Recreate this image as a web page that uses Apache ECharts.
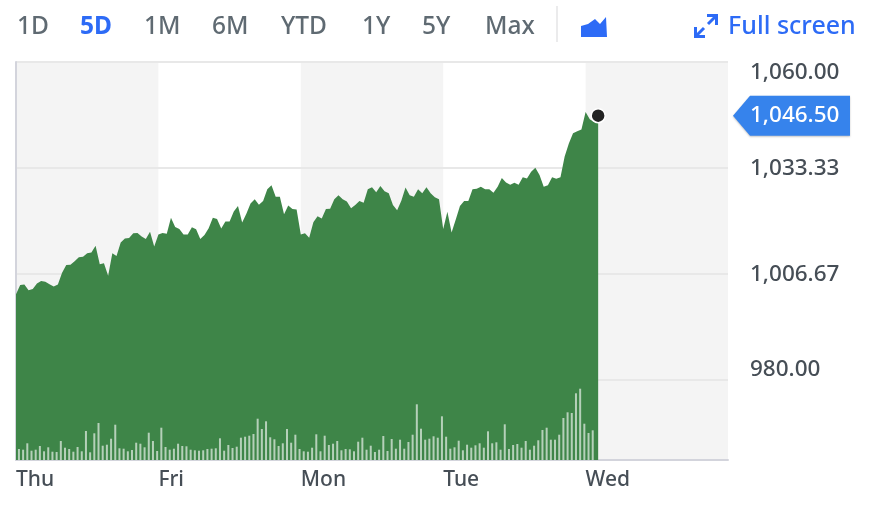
<!DOCTYPE html>
<html>
<head>
<meta charset="utf-8">
<style>html,body{margin:0;padding:0;background:#fff}#chart{width:878px;height:506px}</style>
<script src="https://cdn.jsdelivr.net/npm/echarts@6/dist/echarts.min.js"></script>
</head>
<body>
<div id="chart"></div>
<script>
var prices = [
1001.6,1003.9,1004.0,1002.6,1002.9,1004.3,1004.9,1004.7,1004.1,1003.5,
1004.0,1007.0,1008.9,1009.0,1009.9,1010.9,1011.0,1011.9,1012.1,1013.8,
1009.1,1009.4,1006.2,1011.9,1011.2,1014.6,1015.6,1015.7,1016.9,1017.0,
1016.1,1015.5,1017.3,1013.6,1016.6,1017.0,1016.8,1020.8,1018.5,1018.0,
1016.6,1016.6,1018.4,1017.9,1015.5,1016.5,1018.2,1020.8,1020.5,1018.1,
1019.9,1019.9,1022.4,1023.8,1019.6,1021.8,1024.4,1025.5,1024.1,1025.0,
1028.0,1029.0,1026.1,1026.1,1021.7,1023.9,1023.0,1022.9,
1016.6,1016.9,1015.8,1019.7,1021.2,1020.6,1023.0,1023.1,1025.5,1026.5,
1025.5,1024.9,1023.2,1024.0,1025.0,1024.6,1028.0,1028.5,1027.2,1028.8,
1027.5,1027.0,1024.0,1022.7,1025.1,1028.4,1026.5,1026.1,1028.0,1027.0,
1028.5,1027.0,1026.0,1025.5,1018.0,1022.3,1017.1,1020.4,1023.8,1025.0,
1025.0,1028.0,1028.1,1028.6,1028.0,1028.0,1027.1,1028.6,1030.8,1029.7,
1029.1,1029.6,1029.1,1031.0,1030.7,1032.4,1033.4,1031.6,1028.6,1029.0,
1031.0,1030.6,1031.0,1036.2,1039.5,1042.1,1042.6,1043.0,1047.4,1045.6,
1044.9,1044.9
];
var volumes = [
11,10.3,16.7,9.3,10.3,14,8.7,12.7,8.3,8,19,12.3,11,8.3,13,8.7,29,7.7,26.7,37,
14.3,15.3,21.3,35.3,11.7,11.3,8.7,10,17.3,16.3,12.7,27.3,19,9,32.3,13,10.3,11.3,16.3,14,
13.7,10.3,9.7,9.3,9.7,11,11.3,11.7,21.7,9.3,15,12,13.3,22.3,23.3,24.3,26,41.3,31,38.7,
22.7,20.7,14,16.7,31,17.3,25.3,11,
8.7,8.3,12.3,25.7,8.7,24.3,15,16.3,19,9.7,11,10.7,8.7,18.3,22.3,10.3,14.3,8,10.3,24,
9,21,11.3,20.3,11.3,18,25.3,55.7,31.3,20.3,21.3,23.7,22.3,43.7,23.3,11.3,12.7,19.3,9.7,15.3,
12.3,14.7,16.7,12.3,28.7,16.7,17.7,10.3,35.7,11,15,16,12.3,19,10.3,14.3,19.7,30,32.3,20.3,
20.3,25.3,42,47.7,47,66.7,71.3,36.3,27,29.7
];
var dayLabels = ['Thu','Fri','Mon','Tue','Wed'];
var slotsPerDay = 34;
var yTicks = [980,1006.67,1033.33,1060];
var lastPrice = 1046.5;
var ranges = [['1D',17],['5D',80],['1M',144],['6M',212],['YTD',281],['1Y',362],['5Y',422],['Max',485]];

var fontName = '"Noto Sans"';
var textColor = '#464e56';
var blue = '#2d6bf6';

function money(v){
    return v.toLocaleString('en-US',{minimumFractionDigits:2,maximumFractionDigits:2});
}

var graphics = [];
ranges.forEach(function(r,i){
    graphics.push({type:'text',left:r[1],top:15,style:{text:r[0],font:(r[0]=='5D'?'700':'500')+' 24.5px '+fontName,fill:r[0]=='5D'?blue:'#5f6a72'}});
});
graphics.push({type:'line',shape:{x1:557,y1:6,x2:557,y2:42},style:{stroke:'#e4e4e6',lineWidth:1.5}});
graphics.push({type:'polygon',shape:{points:[[581,26],[588,24],[595,19],[600,24],[606,17],[607,37],[581,37]]},style:{fill:blue}});
graphics.push({type:'polyline',shape:{points:[[707,15.5],[716.5,15.5],[716.5,25]]},style:{stroke:blue,lineWidth:3,fill:null}});
graphics.push({type:'polyline',shape:{points:[[695.5,27],[695.5,36.5],[705,36.5]]},style:{stroke:blue,lineWidth:3,fill:null}});
graphics.push({type:'line',shape:{x1:716,y1:16,x2:708,y2:24},style:{stroke:blue,lineWidth:3}});
graphics.push({type:'line',shape:{x1:704,y1:28,x2:696,y2:36},style:{stroke:blue,lineWidth:3}});
graphics.push({type:'text',left:728,top:14,style:{text:'Full screen',font:'500 25px '+fontName,fill:blue}});

var myChart = echarts.init(document.getElementById('chart'));
var option = {
    animation:false,
    backgroundColor:'#fff',
    graphic:graphics,
    grid:{left:16,top:62,width:712,height:398},
    xAxis:{
        type:'value',
        min:0,
        max:slotsPerDay*5,
        interval:slotsPerDay,
        z:2,
        axisLine:{show:true,onZero:false,lineStyle:{color:'#d3d4dc',width:2}},
        axisTick:{show:false},
        splitLine:{show:false},
        axisLabel:{
            color:textColor,fontFamily:fontName,fontSize:21,fontWeight:500,margin:10,align:'left',showMaxLabel:false,
            formatter:function(v){return dayLabels[v/slotsPerDay]||'';}
        }
    },
    yAxis:[{
        type:'value',
        position:'right',
        min:959.87,
        max:1060,
        z:2,
        axisLine:{show:true,lineStyle:{color:'#d3d4dc',width:2}},
        axisTick:{show:false,customValues:yTicks},
        splitLine:{show:true,lineStyle:{color:'#e8e8e8',width:2}},
        axisLabel:{
            customValues:yTicks,
            color:textColor,fontFamily:fontName,fontSize:22.5,fontWeight:500,margin:22,
            formatter:function(v){
                var s = money(v);
                if(v==1060) return '{top|'+s+'}';
                if(v==980) return '{low|'+s+'}';
                return '{mid|'+s+'}';
            },
            rich:{
                top:{color:textColor,fontFamily:fontName,fontSize:22.5,fontWeight:500,padding:[22,0,0,0]},
                mid:{color:textColor,fontFamily:fontName,fontSize:22.5,fontWeight:500,padding:[2,0,0,0]},
                low:{color:textColor,fontFamily:fontName,fontSize:22.5,fontWeight:500,padding:[0,0,20,0]}
            }
        }
    },{
        type:'value',
        min:0,
        max:398,
        show:false
    }],
    series:[
        {
            type:'line',
            z:3,
            data:prices.map(function(p,i){return [i,p];}),
            symbol:'none',
            lineStyle:{width:0},
            areaStyle:{color:'#3e8548',opacity:1},
            markArea:{
                silent:true,
                z:1,
                itemStyle:{color:'#f4f4f4'},
                data:[0,2,4].map(function(d){return [{xAxis:d*slotsPerDay},{xAxis:(d+1)*slotsPerDay}];})
            },
            markPoint:{
                silent:true,
                symbol:'circle',
                symbolSize:14,
                itemStyle:{color:'#232323',borderColor:'#fff',borderWidth:1.5},
                label:{show:false},
                data:[{coord:[prices.length-1,lastPrice]}]
            }
        },
        {
            type:'bar',
            z:4,
            yAxisIndex:1,
            barWidth:2,
            data:volumes.map(function(v,i){return [i+0.7,v];}),
            itemStyle:{color:'rgba(255,255,255,0.62)'}
        }
    ]
};
myChart.setOption(option);

// price tag follows the y scale
var tagY = myChart.convertToPixel({yAxisIndex:0},lastPrice);
graphics.push({type:'polygon',shape:{points:[[733,tagY],[750,tagY-20],[850,tagY-20],[850,tagY+20],[750,tagY+20]]},style:{fill:'#3683ec',shadowBlur:2,shadowColor:'rgba(0,0,0,0.25)',shadowOffsetY:1}});
graphics.push({type:'text',left:750,top:tagY-12,style:{text:money(lastPrice),font:'500 22.5px '+fontName,fill:'#fff'}});
myChart.setOption({graphic:graphics});
</script>
</body>
</html>
